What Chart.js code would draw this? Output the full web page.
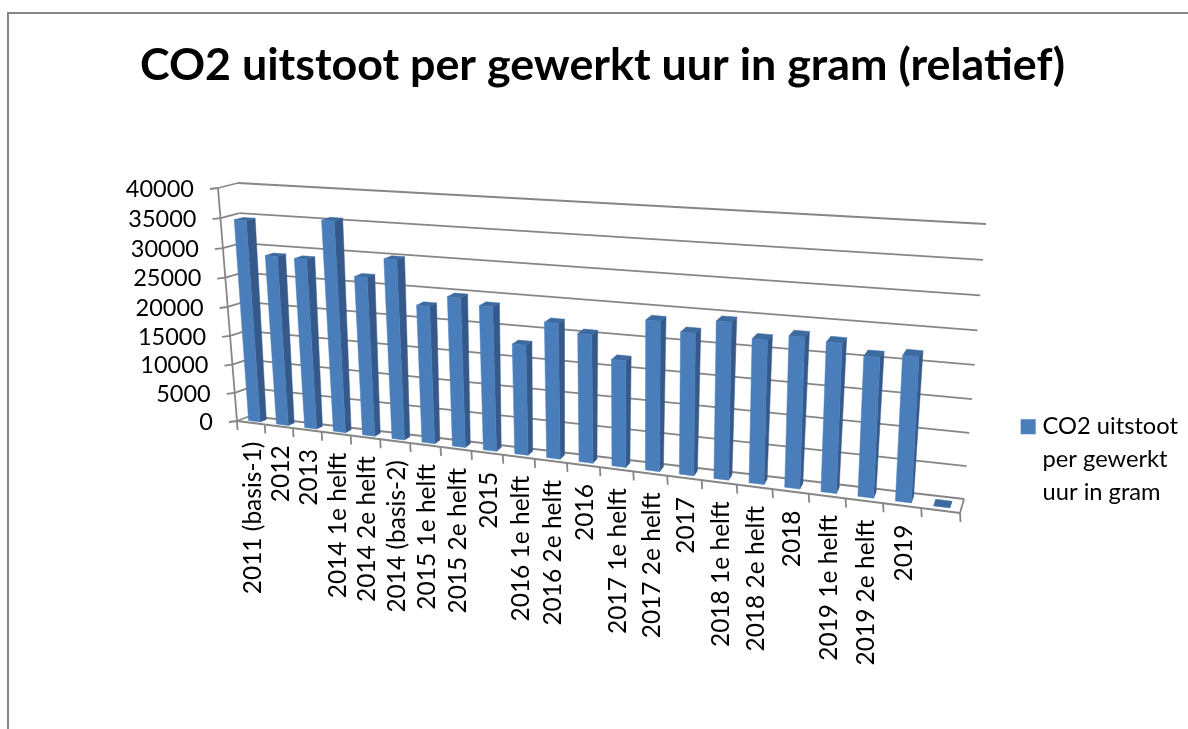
<!DOCTYPE html>
<html>
<head>
<meta charset="utf-8">
<script src="https://cdn.jsdelivr.net/npm/chart.js@4"></script>
<style>
  html, body { margin: 0; background: #fff; overflow: hidden; width: 1188px; height: 729px; }
  #kader { position: absolute; left: 7px; top: 12px; width: 1300px; height: 800px; border: 2px solid #868686; }
  #grafiek { position: absolute; left: 0; top: 0; }
</style>
</head>
<body>
<div id="kader"></div>
<canvas id="grafiek" width="1206" height="729"></canvas>
<script>
const categorieen = ['2011 (basis-1)', '2012', '2013', '2014 1e helft', '2014 2e helft', '2014 (basis-2)',
    '2015 1e helft', '2015 2e helft', '2015', '2016 1e helft', '2016 2e helft', '2016',
    '2017 1e helft', '2017 2e helft', '2017', '2018 1e helft', '2018 2e helft', '2018',
    '2019 1e helft', '2019 2e helft', '2019', ''];
const uitstoot = [34600, 29000, 28900, 35550, 26750, 30000, 22900, 24750, 23750, 18050, 22050,
    20750, 17150, 23800, 22450, 24600, 22400, 23350, 22900, 21350, 21950, 0];
const titel = 'CO2 uitstoot per gewerkt uur in gram (relatief)';
const legendaRegels = ['CO2 uitstoot', 'per gewerkt', 'uur in gram'];

// Hoeken van de 3D-doos op het scherm: linksboven, rechtsboven, rechtsonder, linksonder
const voorvlak = [[218, 188], [975, 238], [960, 513], [237, 421]];
const achterwand = [[238, 183], [986, 224], [964, 499], [250, 416]];
const diepteBalk = [0.28, 0.75];

const lijnKleur = '#868686';
const kleurVoor = '#4a7ebb';
const kleurZij = '#35598b';
const kleurBoven = '#3d6a9f';
const lettertype = 'Lato, sans-serif';

// Projectie van eenheidsvierkant naar vierhoek
function maakHomografie(q) {
    const [x0, y0] = q[0], [x1, y1] = q[1], [x2, y2] = q[2], [x3, y3] = q[3];
    const dx1 = x1 - x2, dx2 = x3 - x2, sx = x0 - x1 + x2 - x3;
    const dy1 = y1 - y2, dy2 = y3 - y2, sy = y0 - y1 + y2 - y3;
    const n = dx1 * dy2 - dx2 * dy1;
    const g = (sx * dy2 - dx2 * sy) / n;
    const h = (dx1 * sy - sx * dy1) / n;
    const a = x1 - x0 + g * x1, b = x3 - x0 + h * x3;
    const d = y1 - y0 + g * y1, e = y3 - y0 + h * y3;
    return (u, v) => {
        const w = g * u + h * v + 1;
        return [(a * u + b * v + x0) / w, (d * u + e * v + y0) / w];
    };
}
const hVoor = maakHomografie(voorvlak);
const hAchter = maakHomografie(achterwand);

// Van pixel in het plotgebied naar het scherm, diepte 0 = voor, 1 = achter
function projecteer(chart, px, py, diepte) {
    const ca = chart.chartArea;
    const u = (px - ca.left) / (ca.right - ca.left);
    const v = (py - ca.top) / (ca.bottom - ca.top);
    const p = hVoor(u, v), q = hAchter(u, v);
    return [p[0] + (q[0] - p[0]) * diepte, p[1] + (q[1] - p[1]) * diepte];
}

function lijn(ctx, a, b) {
    ctx.beginPath();
    ctx.moveTo(a[0], a[1]);
    ctx.lineTo(b[0], b[1]);
    ctx.stroke();
}

function vlak(ctx, punten, kleur) {
    ctx.fillStyle = kleur;
    ctx.strokeStyle = kleur;
    ctx.lineWidth = 0.5;
    ctx.beginPath();
    punten.forEach((p, i) => i ? ctx.lineTo(p[0], p[1]) : ctx.moveTo(p[0], p[1]));
    ctx.closePath();
    ctx.fill();
    ctx.stroke();
}

const doos3d = {
    id: 'doos3d',
    // Wanden, rasterlijnen en aslabels
    beforeDatasetsDraw(chart) {
        const { ctx, chartArea: ca } = chart;
        const schaalX = chart.scales.x, schaalY = chart.scales.y;
        ctx.save();
        ctx.strokeStyle = lijnKleur;
        ctx.lineWidth = 1.8;

        schaalY.ticks.forEach((t, i) => {
            const y = schaalY.getPixelForTick(i);
            const voor = projecteer(chart, ca.left, y, 0);
            const achter = projecteer(chart, ca.left, y, 1);
            lijn(ctx, [voor[0] - 8, voor[1] + 1], voor);
            lijn(ctx, voor, achter);
            lijn(ctx, achter, projecteer(chart, ca.right, y, 1));
        });
        lijn(ctx, projecteer(chart, ca.left, ca.top, 0), projecteer(chart, ca.left, ca.bottom, 0));
        lijn(ctx, projecteer(chart, ca.left, ca.bottom, 0), projecteer(chart, ca.right, ca.bottom, 0));
        lijn(ctx, projecteer(chart, ca.right, ca.bottom, 0), projecteer(chart, ca.right, ca.bottom, 1));

        const stap = (ca.right - ca.left) / categorieen.length;
        for (let i = 0; i <= categorieen.length; i++) {
            const p = projecteer(chart, ca.left + i * stap, ca.bottom, 0);
            lijn(ctx, p, [p[0] + 0.5, p[1] + 9]);
        }

        ctx.fillStyle = '#000';
        ctx.textBaseline = 'middle';
        ctx.textAlign = 'right';
        ctx.font = '23.5px ' + lettertype;
        schaalY.ticks.forEach((t, i) => {
            const voor = projecteer(chart, ca.left, schaalY.getPixelForTick(i), 0);
            ctx.fillText(t.label, voor[0] - 24, voor[1] + 1);
        });
        ctx.font = '24.5px ' + lettertype;
        schaalX.ticks.forEach((t, i) => {
            const p = projecteer(chart, schaalX.getPixelForTick(i), ca.bottom, 0);
            ctx.save();
            ctx.translate(p[0] + 2, p[1] + 19);
            ctx.rotate(-Math.PI / 2);
            ctx.fillText(schaalX.getLabelForValue(t.value), 0, 0);
            ctx.restore();
        });
        ctx.restore();
    },
    // De balken zelf: maten komen uit de bar-elementen van Chart.js
    beforeDatasetDraw(chart, args) {
        const { ctx } = chart;
        ctx.save();
        args.meta.data.forEach(bar => {
            const l = bar.x - bar.width / 2, r = bar.x + bar.width / 2;
            const [d0, d1] = diepteBalk;
            const P = (x, y, d) => projecteer(chart, x, y, d);
            vlak(ctx, [P(r, bar.y, d0), P(r, bar.y, d1), P(r, bar.base, d1), P(r, bar.base, d0)], kleurZij);
            vlak(ctx, [P(l, bar.y, d0), P(l, bar.y, d1), P(r, bar.y, d1), P(r, bar.y, d0)], kleurBoven);
            vlak(ctx, [P(l, bar.y, d0), P(r, bar.y, d0), P(r, bar.base, d0), P(l, bar.base, d0)], kleurVoor);
        });
        ctx.restore();
        return false;
    }
};

new Chart(document.getElementById('grafiek'), {
    type: 'bar',
    data: {
        labels: categorieen,
        datasets: [{
            label: legendaRegels.join(' '),
            data: uitstoot,
            backgroundColor: kleurVoor,
            barPercentage: 0.42,
            categoryPercentage: 1
        }]
    },
    plugins: [doos3d],
    options: {
        responsive: false,
        animation: false,
        layout: { padding: { left: 17, right: 18, bottom: 0 } },
        scales: {
            x: {
                grid: { display: false },
                border: { display: false },
                ticks: { display: false, autoSkip: false },
                afterFit(schaal) { schaal.height = 0; }
            },
            y: {
                min: 0,
                max: 40000,
                grid: { display: false },
                border: { display: false },
                ticks: { display: false, stepSize: 5000, callback: v => String(v) },
                afterFit(schaal) { schaal.width = 190; }
            }
        },
        plugins: {
            title: {
                display: true,
                text: titel,
                color: '#000',
                font: { family: lettertype, size: 44.8, weight: 'bold' },
                padding: { top: 39, bottom: 107 }
            },
            legend: {
                position: 'right',
                fullSize: false,
                labels: {
                    color: '#000',
                    font: { family: lettertype, size: 23.7, lineHeight: 1.39 },
                    usePointStyle: true,
                    pointStyle: 'rect',
                    boxWidth: 5,
                    boxHeight: 15,
                    generateLabels: () => [{
                        text: legendaRegels,
                        fillStyle: kleurVoor,
                        strokeStyle: kleurVoor,
                        lineWidth: 0,
                        pointStyle: 'rect'
                    }]
                }
            }
        }
    }
});
</script>
</body>
</html>
